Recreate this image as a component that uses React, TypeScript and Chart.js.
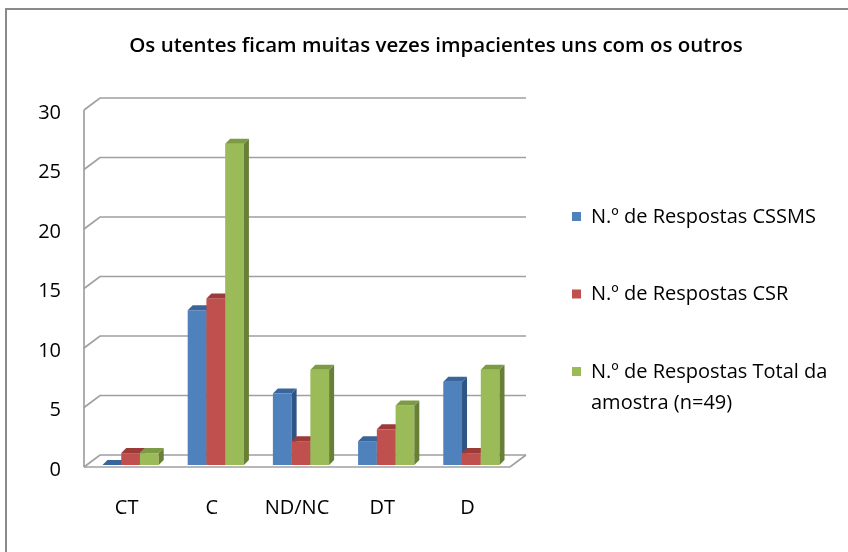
import React, { useEffect, useRef } from 'react';
import { Chart, registerables } from 'chart.js';

Chart.register(...registerables);

const chartTitle = 'Os utentes ficam muitas vezes impacientes uns com os outros';
const categories = ['CT', 'C', 'ND/NC', 'DT', 'D'];
const seriesLabels = [
  'N.º de Respostas CSSMS',
  'N.º de Respostas CSR',
  'N.º de Respostas Total da amostra (n=49)',
];
const cssmsValues = [0, 13, 6, 2, 7];
const csrValues = [1, 14, 2, 3, 1];
const totalValues = [1, 27, 8, 5, 8];
const yTickValues = [0, 5, 10, 15, 20, 25, 30];

const frontColors = ['#4F81BD', '#C0504D', '#9BBB59'];
const topColors = ['#3A659A', '#9C3B38', '#7D9A45'];
const sideColors = ['#2F5584', '#86302E', '#677F37'];

const WALL_DX = 16;
const WALL_DY = -12;
const BAR_OX = 4;
const BAR_OY = -2;
const BAR_D = 5;
const FONT = "'Open Sans', 'DejaVu Sans', sans-serif";

const threeDPlugin = {
  id: 'threeD',
  beforeDatasetsDraw(chart: any) {
    const { ctx, chartArea, scales } = chart;
    const { left, right, bottom } = chartArea;
    const y = scales.y;
    ctx.save();
    ctx.strokeStyle = '#a0a0a0';
    ctx.lineWidth = 1.7;
    ctx.lineJoin = 'miter';
    // back wall gridlines with left wall diagonals
    for (const v of yTickValues) {
      const py = y.getPixelForValue(v);
      ctx.beginPath();
      ctx.moveTo(left, py);
      ctx.lineTo(left + WALL_DX, py + WALL_DY);
      ctx.lineTo(right + WALL_DX, py + WALL_DY);
      ctx.stroke();
    }
    // floor front and right edges
    ctx.beginPath();
    ctx.moveTo(left, bottom);
    ctx.lineTo(right, bottom);
    ctx.lineTo(right + WALL_DX, bottom + WALL_DY);
    ctx.stroke();
    // front vertical axis
    ctx.beginPath();
    ctx.moveTo(left, y.getPixelForValue(yTickValues[yTickValues.length - 1]));
    ctx.lineTo(left, bottom);
    ctx.stroke();

    // 3D bars
    const n = chart.data.labels.length;
    const nd = chart.data.datasets.length;
    for (let i = 0; i < n; i++) {
      for (let d = 0; d < nd; d++) {
        const el = chart.getDatasetMeta(d).data[i];
        const p = el.getProps(['x', 'y', 'base', 'width'], true);
        const x0 = p.x - p.width / 2 + BAR_OX;
        const x1 = p.x + p.width / 2 + BAR_OX;
        const yt = p.y + BAR_OY;
        const yb = p.base + BAR_OY;
        // front face
        ctx.fillStyle = frontColors[d];
        ctx.fillRect(x0, yt, x1 - x0, yb - yt);
        // side face
        ctx.fillStyle = sideColors[d];
        ctx.beginPath();
        ctx.moveTo(x1, yb);
        ctx.lineTo(x1, yt);
        ctx.lineTo(x1 + BAR_D, yt - BAR_D);
        ctx.lineTo(x1 + BAR_D, yb - BAR_D);
        ctx.closePath();
        ctx.fill();
        // top face
        ctx.fillStyle = topColors[d];
        ctx.beginPath();
        ctx.moveTo(x0, yt);
        ctx.lineTo(x1, yt);
        ctx.lineTo(x1 + BAR_D, yt - BAR_D);
        ctx.lineTo(x0 + BAR_D, yt - BAR_D);
        ctx.closePath();
        ctx.fill();
      }
    }
    ctx.restore();
    return false;
  },
  afterDraw(chart: any) {
    const { ctx, width, height } = chart;
    ctx.save();
    // outer border (left and top visible)
    ctx.strokeStyle = '#8a8a8a';
    ctx.lineWidth = 2;
    ctx.beginPath();
    ctx.moveTo(6, height);
    ctx.lineTo(6, 9);
    ctx.lineTo(width, 9);
    ctx.stroke();

    // title
    ctx.fillStyle = '#000';
    ctx.font = `600 20.5px ${FONT}`;
    ctx.textAlign = 'center';
    ctx.textBaseline = 'middle';
    ctx.fillText(chartTitle, 436, 46);

    // legend
    ctx.font = `20px ${FONT}`;
    ctx.textAlign = 'left';
    let yy = 217;
    chart.data.datasets.forEach((ds: any, d: number) => {
      ctx.fillStyle = frontColors[d];
      ctx.fillRect(572, yy - 5, 9, 9);
      ctx.fillStyle = '#000';
      const words = String(ds.label).split(' ');
      const lines: string[] = [];
      let cur = '';
      for (const w of words) {
        const test = cur ? cur + ' ' + w : w;
        if (cur && ctx.measureText(test).width > 250) {
          lines.push(cur);
          cur = w;
        } else {
          cur = test;
        }
      }
      if (cur) lines.push(cur);
      lines.forEach((ln, k) => ctx.fillText(ln, 591, yy + k * 31));
      yy += 77.5;
    });
    ctx.restore();
  },
};

export default function App() {
  const canvasRef = useRef<HTMLCanvasElement | null>(null);

  useEffect(() => {
    if (!canvasRef.current) return;
    const chart = new Chart(canvasRef.current, {
      type: 'bar',
      data: {
        labels: categories,
        datasets: [
          { label: seriesLabels[0], data: cssmsValues, backgroundColor: frontColors[0] },
          { label: seriesLabels[1], data: csrValues, backgroundColor: frontColors[1] },
          { label: seriesLabels[2], data: totalValues, backgroundColor: frontColors[2] },
        ],
      },
      options: {
        responsive: false,
        animation: false,
        devicePixelRatio: 1,
        layout: { padding: { top: 110, right: 338, bottom: 0, left: 0 } },
        datasets: { bar: { categoryPercentage: 0.66, barPercentage: 1 } },
        plugins: {
          legend: { display: false },
          tooltip: { enabled: false },
          title: { display: false },
        },
        scales: {
          x: {
            grid: { display: false, drawTicks: false },
            border: { display: false },
            ticks: { padding: 29, color: '#000', font: { family: FONT, size: 20 } },
            afterFit: (scale: any) => { scale.height = 85; },
          },
          y: {
            min: 0,
            max: 30,
            grid: { display: false, drawTicks: false },
            border: { display: false },
            ticks: { stepSize: 5, padding: 23, labelOffset: 3, color: '#000', font: { family: FONT, size: 20 } },
            afterFit: (scale: any) => { scale.width = 84; },
          },
        },
      },
      plugins: [threeDPlugin],
    } as any);
    return () => chart.destroy();
  }, []);

  return (
    <div style={{ position: 'absolute', left: 0, top: 0, width: 848, height: 552, background: '#fff' }}>
      <canvas ref={canvasRef} width={848} height={552} />
    </div>
  );
}
